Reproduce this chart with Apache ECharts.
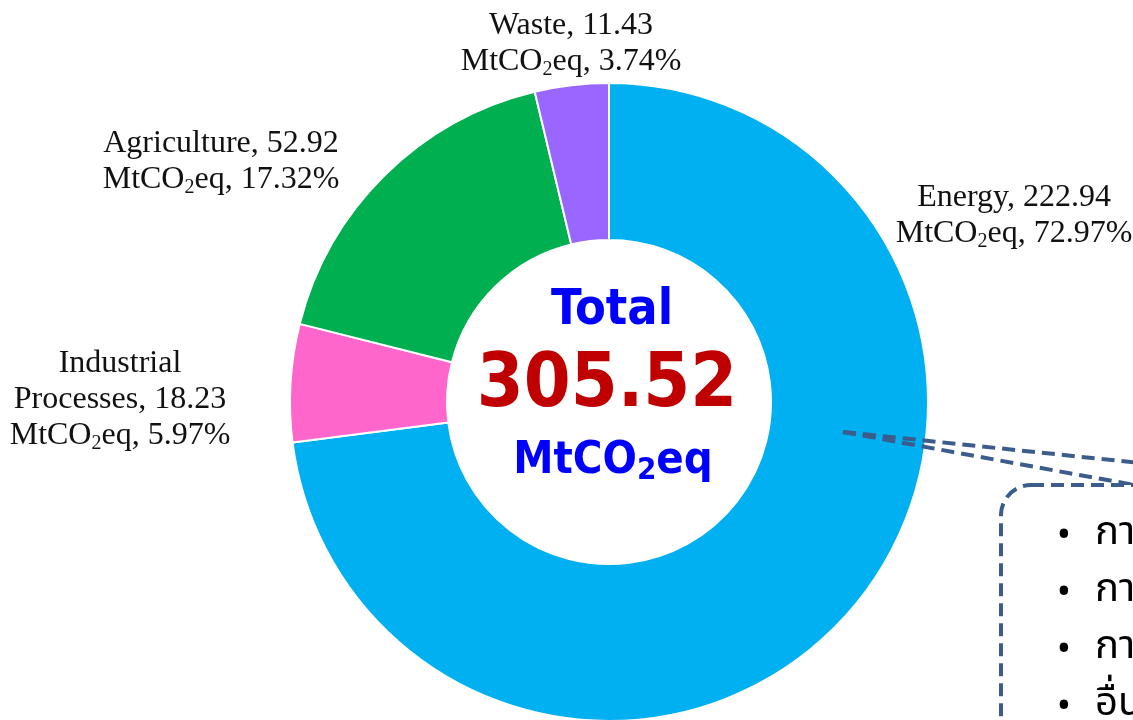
<!DOCTYPE html>
<html>
<head>
<meta charset="utf-8">
<script src="https://cdn.jsdelivr.net/npm/echarts@6/dist/echarts.min.js"></script>
<style>
  html, body { margin: 0; padding: 0; background: #fff; }
  #chart-container { width: 1133px; height: 720px; }
</style>
</head>
<body>
<div id="chart-container"></div>
<script>
// GHG emissions by sector (MtCO2eq)
var sectors = ['Energy', 'Industrial Processes', 'Agriculture', 'Waste'];
var emissions = [222.94, 18.23, 52.92, 11.43];
var sectorColors = ['#00B0F0', '#FF66CC', '#00B050', '#9966FF'];
var energyItems = ['การผลิตไฟฟ้า', 'การขนส่ง', 'การเผาไหม้เชื้อเพลิง', 'อื่นๆ'];

var total = 0;
for (var i = 0; i < emissions.length; i++) {
    total += emissions[i];
}

// where each sector label sits
var labelSpots = [
    [1014, 216],
    [120, 400],
    [221, 162],
    [571, 44]
];

var dom = document.getElementById('chart-container');
var myChart = echarts.init(dom, null, {
    renderer: 'canvas',
    useDirtyRect: false
});

var serif = 'Liberation Serif';
var sans = '"DejaVu Sans Condensed", "Noto Sans", sans-serif';
var boxBlue = '#3C5C8C';

var pieData = sectors.map(function (name, idx) {
    return {
        name: name,
        value: emissions[idx],
        itemStyle: { color: sectorColors[idx] }
    };
});

var graphics = [
    {
        type: 'text',
        x: 612,
        y: 311,
        style: {
            text: 'Total',
            fontFamily: sans,
            fontWeight: 'bold',
            fontSize: 50,
            fill: '#0000FF',
            align: 'center',
            verticalAlign: 'middle'
        }
    },
    {
        type: 'text',
        x: 607,
        y: 387,
        style: {
            text: total.toFixed(2),
            fontFamily: sans,
            fontWeight: 'bold',
            fontSize: 75,
            fill: '#C00000',
            align: 'center',
            verticalAlign: 'middle'
        }
    },
    {
        type: 'text',
        x: 613,
        y: 461,
        style: {
            text: '{a|MtCO}{b|2}{a|eq}',
            align: 'center',
            verticalAlign: 'middle',
            rich: {
                a: {
                    fontFamily: sans,
                    fontWeight: 'bold',
                    fontSize: 45,
                    lineHeight: 50,
                    fill: '#0000FF'
                },
                b: {
                    fontFamily: sans,
                    fontWeight: 'bold',
                    fontSize: 31,
                    lineHeight: 18,
                    verticalAlign: 'bottom',
                    fill: '#0000FF'
                }
            }
        }
    },
    // callout lines to the energy box
    {
        type: 'line',
        z: 100,
        shape: { x1: 843, y1: 432, x2: 1140, y2: 463 },
        style: { stroke: boxBlue, lineWidth: 4, lineDash: [13, 7] }
    },
    {
        type: 'line',
        z: 100,
        shape: { x1: 843, y1: 432, x2: 1140, y2: 486 },
        style: { stroke: boxBlue, lineWidth: 4, lineDash: [13, 7] }
    },
    {
        type: 'rect',
        z: 101,
        shape: { x: 1001, y: 485, width: 320, height: 400, r: 30 },
        style: { fill: '#fff', stroke: boxBlue, lineWidth: 4, lineDash: [13, 7] }
    }
];

energyItems.forEach(function (txt, k) {
    var rowY = 536 + k * 57;
    graphics.push({
        type: 'text',
        z: 102,
        x: 1064,
        y: rowY,
        style: {
            text: '•',
            fontFamily: 'Noto Sans',
            fontSize: 38,
            fill: '#000',
            align: 'center',
            verticalAlign: 'middle'
        }
    });
    graphics.push({
        type: 'text',
        z: 102,
        x: 1095,
        y: rowY,
        style: {
            text: txt,
            fontFamily: '"Noto Sans Thai", "Noto Sans", sans-serif',
            fontSize: 40,
            fill: '#000',
            align: 'left',
            verticalAlign: 'middle'
        }
    });
});

var option = {
    backgroundColor: '#fff',
    animation: false,
    series: [
        {
            type: 'pie',
            center: [609, 402],
            radius: [162, 319],
            startAngle: 90,
            clockwise: true,
            percentPrecision: 2,
            itemStyle: {
                borderColor: '#fff',
                borderWidth: 2
            },
            label: {
                show: true,
                position: 'outside',
                overflow: 'none',
                formatter: function (p) {
                    var name = p.name.replace('Industrial ', 'Industrial}\n{t|');
                    return '{t|' + name + ', ' + p.value.toFixed(2) + '}\n' +
                        '{t|MtCO}{s|2}{t|eq, ' + p.percent.toFixed(2) + '%}';
                },
                rich: {
                    t: {
                        fontFamily: serif,
                        fontSize: 32,
                        lineHeight: 36,
                        color: '#111'
                    },
                    s: {
                        fontFamily: serif,
                        fontSize: 20,
                        lineHeight: 18,
                        verticalAlign: 'bottom',
                        color: '#111'
                    }
                }
            },
            labelLine: { show: false },
            labelLayout: function (params) {
                var spot = labelSpots[params.dataIndex];
                return {
                    x: spot[0],
                    y: spot[1],
                    align: 'center',
                    verticalAlign: 'middle'
                };
            },
            emphasis: { disabled: true },
            data: pieData
        }
    ],
    graphic: graphics
};

if (option && typeof option === 'object') {
    myChart.setOption(option);
}
</script>
</body>
</html>
